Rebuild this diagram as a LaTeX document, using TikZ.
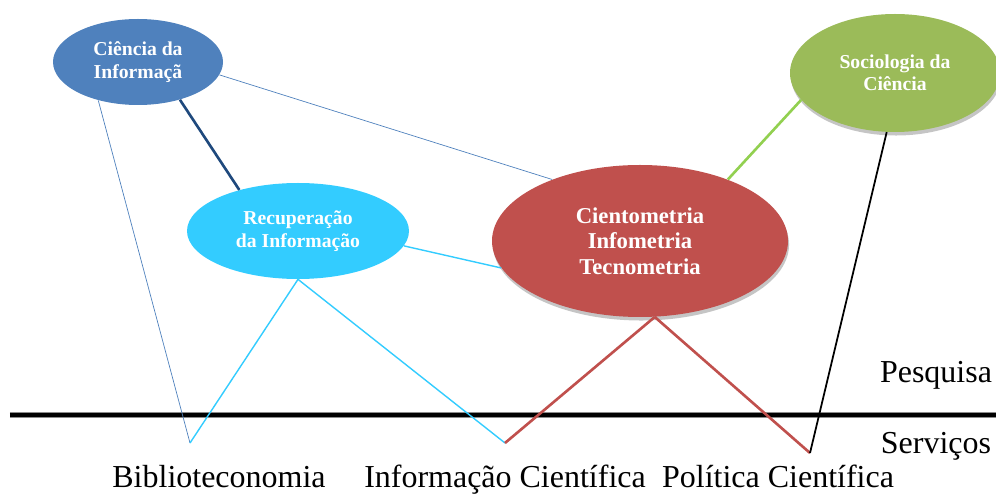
\documentclass[tikz,border=0pt]{standalone}
\usepackage{fontspec}
\setmainfont{Liberation Serif}
\usetikzlibrary{shapes.geometric,shadows}
\definecolor{ciblue}{HTML}{4F81BD}
\definecolor{cinavy}{HTML}{1F497D}
\definecolor{ricyan}{HTML}{33CCFF}
\definecolor{ctred}{HTML}{C0504D}
\definecolor{scgreen}{HTML}{9BBB59}
\definecolor{sclink}{HTML}{92D050}
\begin{document}
\begin{tikzpicture}
	\useasboundingbox (0,0) rectangle (19.92,9.9);

	\begin{scope}[every node/.style={ellipse,text=white,align=center,inner sep=0pt,font=\bfseries\fontsize{11.2}{12.8}\selectfont}]
		\node (CI) [fill=ciblue,minimum width=3.4cm,minimum height=1.72cm] at (2.76,8.66) {Ciência da\\Informaçã};
		\node (RI) [fill=ricyan,minimum width=4.44cm,minimum height=1.92cm] at (5.96,5.28) {Recuperação\\da Informação};
		\node (CT) [fill=ctred,minimum width=5.92cm,minimum height=3.04cm,font=\bfseries\fontsize{12.9}{14.4}\selectfont,
			drop shadow={shadow xshift=0.6pt,shadow yshift=-2pt,fill=black!45}] at (12.8,5.08) {Cientometria\\Infometria\\Tecnometria};
		\node (SC) [fill=scgreen,minimum width=4.2cm,minimum height=2.36cm,
			drop shadow={shadow xshift=0.6pt,shadow yshift=-2pt,fill=black!45}] at (17.9,8.44) {Sociologia da\\Ciência};
	\end{scope}

	\coordinate (bib) at (3.8,1.04);
	\coordinate (info) at (10.1,1.04);
	\coordinate (pol) at (16.2,0.84);
	\coordinate (left) at (0.2,1.6);
	\coordinate (right) at (19.92,1.6);

	% linha entre pesquisa e servicos
	\draw [black!45,line width=3.6pt] (left) -- (right);
	\draw [black,line width=2.4pt] (left) -- (right);

	\begin{scope}[every edge/.style={draw=black,thin}]
		\path (CI.224) edge [draw=ciblue] (bib);
		\path (CI.351) edge [draw=ciblue] (CT.145);
		\path (CI.318) edge [draw=cinavy,line width=1.5pt] (RI.145);
		\path (RI.352) edge [draw=ricyan,line width=0.8pt] (CT.191);
		\path (RI.south) edge [draw=ricyan,line width=0.8pt] (bib);
		\path (RI.south) edge [draw=ricyan,line width=0.8pt] (info);
		\path (CT.281) edge [draw=ctred,line width=1.5pt] (info);
		\path (CT.281) edge [draw=ctred,line width=1.5pt] (pol);
		\path (SC.196) edge [draw=sclink,line width=1.5pt] (CT.35);
		\path (SC.262) edge [draw=black,line width=1pt] (pol);
	\end{scope}

	\begin{scope}[every node/.style={anchor=base,inner sep=0pt,font=\fontsize{18.2}{21}\selectfont}]
		\node (pesq) at (18.72,2.24) {Pesquisa};
		\node (serv) at (18.72,0.84) {Serviços};
		\node (biblio) at (4.38,0.15) {Biblioteconomia};
		\node (infocien) at (10.1,0.15) {Informação Científica};
		\node (polcien) at (15.56,0.15) {Política Científica};
	\end{scope}
\end{tikzpicture}
\end{document}
